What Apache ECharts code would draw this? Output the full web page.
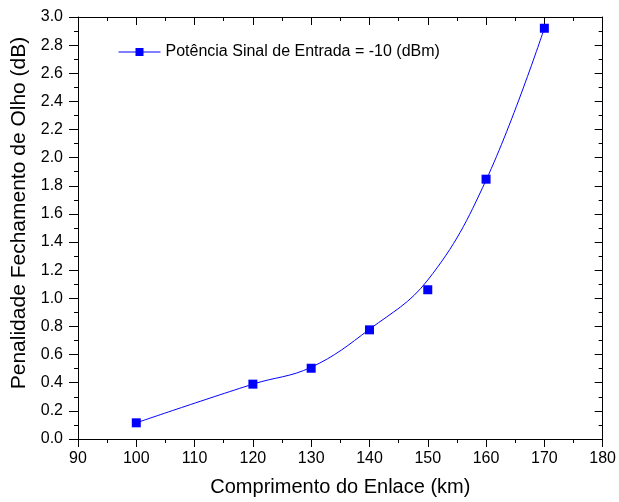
<!DOCTYPE html>
<html>
<head>
<meta charset="utf-8">
<script src="https://cdn.jsdelivr.net/npm/echarts@6/dist/echarts.min.js"></script>
<style>
  html, body { margin: 0; padding: 0; background: #fff; }
  #chart { width: 619px; height: 502px; }
</style>
</head>
<body>
<div id="chart"></div>
<script>
// pontos medidos (marcadores)
const comprimento = [100, 120, 130, 140, 150, 160, 170];
const penalidade = [0.115, 0.39, 0.503, 0.776, 1.061, 1.847, 2.92];
// curva de ajuste (passa acima do ponto de 150 km)
const curvaX = [100, 120, 130, 140, 150, 160, 170];
const curvaY = [0.115, 0.39, 0.51, 0.78, 1.13, 1.84, 2.92];

const nomeSerie = 'Potência Sinal de Entrada = -10 (dBm)';
const fonte = 'Liberation Sans, Arial, sans-serif';

const chart = echarts.init(document.getElementById('chart'));

const axisBase = {
  axisLine: { show: true, onZero: false, lineStyle: { color: '#000', width: 1 } },
  splitLine: { show: false },
};

chart.setOption({
  animation: false,
  grid: { left: 78, right: 14, top: 17, bottom: 60 },
  legend: {
    data: [nomeSerie],
    left: 113, top: 39,
    itemWidth: 42, itemHeight: 10, itemGap: 6,
    textStyle: { fontFamily: fonte, fontSize: 16, color: '#000' },
    lineStyle: { opacity: 1, color: '#0000ff', width: 1 }
  },
  xAxis: [
    Object.assign({}, axisBase, {
      type: 'value', min: 90, max: 180, interval: 10,
      name: 'Comprimento do Enlace (km)', nameLocation: 'middle', nameGap: 38,
      nameTextStyle: { fontFamily: fonte, fontSize: 20, color: '#000' },
      axisTick: { show: true, inside: false, length: 8, lineStyle: { color: '#000' } },
      minorTick: { show: true, splitNumber: 2, length: 4, lineStyle: { color: '#000' } },
      axisLabel: { fontFamily: fonte, fontSize: 16, color: '#000', margin: 12 }
    }),
    Object.assign({}, axisBase, {
      type: 'value', min: 90, max: 180, interval: 10, position: 'top',
      axisTick: { show: true, inside: true, length: 8, lineStyle: { color: '#000' } },
      minorTick: { show: true, splitNumber: 2, length: 4, lineStyle: { color: '#000' } },
      axisLabel: { show: false }
    })
  ],
  yAxis: [
    Object.assign({}, axisBase, {
      type: 'value', min: 0, max: 3, interval: 0.2,
      name: 'Penalidade Fechamento de Olho (dB)', nameLocation: 'middle', nameGap: 46,
      nameTextStyle: { fontFamily: fonte, fontSize: 21, color: '#000', padding: [0, 0, 0, 30] },
      axisTick: { show: true, inside: false, length: 9, lineStyle: { color: '#000' } },
      minorTick: { show: true, splitNumber: 2, length: 4, lineStyle: { color: '#000' } },
      axisLabel: {
        fontFamily: fonte, fontSize: 16, color: '#000', margin: 15,
        formatter: v => v.toFixed(1)
      }
    }),
    Object.assign({}, axisBase, {
      type: 'value', min: 0, max: 3, interval: 0.2, position: 'right',
      axisTick: { show: true, inside: true, length: 8, lineStyle: { color: '#000' } },
      minorTick: { show: true, splitNumber: 2, length: 4, lineStyle: { color: '#000' } },
      axisLabel: { show: false }
    })
  ],
  series: [
    {
      name: 'curva',
      type: 'line',
      data: curvaX.map((x, i) => [x, curvaY[i]]),
      smooth: 0.4,
      showSymbol: false,
      symbol: 'none',
      lineStyle: { color: '#0000ff', width: 1 },
      z: 2
    },
    {
      name: nomeSerie,
      type: 'line',
      data: comprimento.map((x, i) => [x, penalidade[i]]),
      symbol: 'rect',
      symbolSize: 9,
      itemStyle: { color: '#0000ff' },
      lineStyle: { opacity: 0, color: '#0000ff', width: 1 },
      z: 3
    }
  ]
});
</script>
</body>
</html>
